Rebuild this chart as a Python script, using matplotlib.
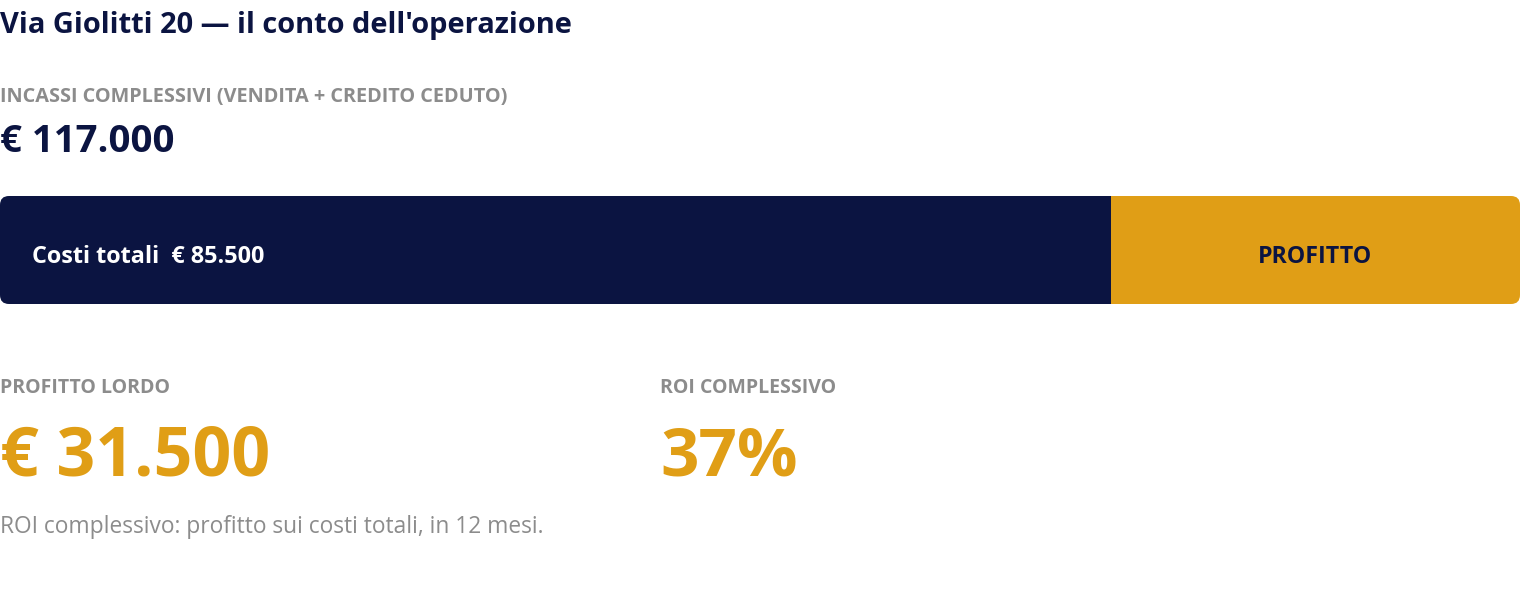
import matplotlib.pyplot as plt
from matplotlib.patches import FancyBboxPatch

# data
parts = ["Costi totali", "PROFITTO"]
amounts = [85500, 31500]
months = 12

navy = "#0B1441"
gold = "#E09E16"
grey = "#8C8C8C"

plt.rcParams['font.family'] = ['Open Sans', 'DejaVu Sans']


def euro(v):
    return "€ " + f"{v:,}".replace(",", ".")


total = sum(amounts)
costs, profit = amounts
roi = profit / costs * 100

fig = plt.figure(figsize=(15.2, 6), dpi=100)
ax = fig.add_axes([0, 0, 1, 1])
ax.set_xlim(0, 1520)
ax.set_ylim(600, 0)
ax.axis("off")

ax.text(0, 33, "Via Giolitti 20 — il conto dell'operazione", fontsize=20.9,
        fontweight="bold", color=navy, va="baseline")
ax.text(0, 102, "INCASSI COMPLESSIVI (VENDITA + CREDITO CEDUTO)", fontsize=14.3,
        fontweight="bold", color=grey, va="baseline")
ax.text(0, 152, euro(total), fontsize=27.6, fontweight="bold", color=navy,
        va="baseline")

# stacked bar, clipped to a rounded box
bar_top, bar_h = 196, 108
bax = fig.add_axes([0, 1 - (bar_top + bar_h) / 600, 1, bar_h / 600])
bax.set_xlim(0, total)
bax.set_ylim(-0.5, 0.5)
bax.axis("off")
bars = bax.barh([0, 0], amounts, left=[0, costs], height=1.0,
                color=[navy, gold], linewidth=0)
clip = FancyBboxPatch((0, bar_top), 1520, bar_h,
                      boxstyle="round,pad=0,rounding_size=9",
                      transform=ax.transData, facecolor="none", edgecolor="none")
ax.add_patch(clip)
for b in bars:
    b.set_clip_path(clip)

# labels sit on the bar axes so they are drawn above the bars
bax.text(32, 263, f"{parts[0]}  {euro(costs)}", fontsize=16.8,
         fontweight="bold", color="white", va="baseline", ha="left",
         transform=ax.transData)
bax.text((costs + profit / 2) / total * 1520, 263, parts[1], fontsize=16.7,
         fontweight="bold", color=navy, va="baseline", ha="center",
         transform=ax.transData)

# KPI blocks
ax.text(0, 393, "PROFITTO LORDO", fontsize=14, fontweight="bold", color=grey,
        va="baseline")
ax.text(0, 476, euro(profit), fontsize=49, fontweight="bold", color=gold,
        va="baseline")
ax.text(660, 393, "ROI COMPLESSIVO", fontsize=14, fontweight="bold",
        color=grey, va="baseline")
ax.text(660, 476, f"{roi:.0f}%", fontsize=48.5, fontweight="bold", color=gold,
        va="baseline")

ax.text(0, 533, f"ROI complessivo: profitto sui costi totali, in {months} mesi.",
        fontsize=16.4, color=grey, va="baseline")

fig.savefig("out.png", dpi=100)
